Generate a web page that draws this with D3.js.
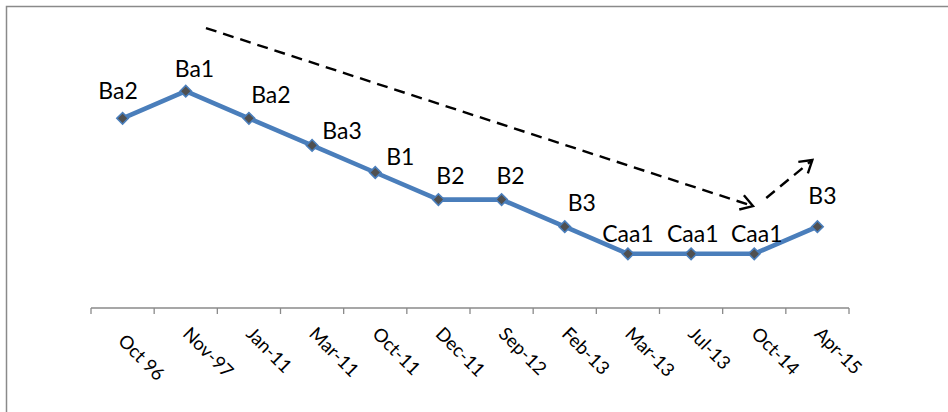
<!DOCTYPE html>
<html>
<head>
<meta charset="utf-8">
<script src="https://cdn.jsdelivr.net/npm/d3@7"></script>
<style>
  html, body { margin: 0; padding: 0; background: #fff; }
  svg { display: block; }
</style>
</head>
<body>
<svg id="chart" width="948" height="412"></svg>
<script>
// Rating dates and the rating assigned at each date
const categories = ["Oct 96", "Nov-97", "Jan-11", "Mar-11", "Oct-11", "Dec-11",
                    "Sep-12", "Feb-13", "Mar-13", "Jul-13", "Oct-14", "Apr-15"];
const ratings = ["Ba2", "Ba1", "Ba2", "Ba3", "B1", "B2", "B2", "B3", "Caa1", "Caa1", "Caa1", "B3"];

// Rating ladder, lowest first; notch value = position + 2
const ratingLadder = ["Caa1", "B3", "B2", "B1", "Ba3", "Ba2", "Ba1"];
const notch = r => ratingLadder.indexOf(r) + 2;

// Trend arrows in data units: [category index, notch value]
const downTrend = [[1.32, 10.33], [9.98, 3.76]];
const upTrend = [[10.19, 4.06], [10.92, 5.46]];

// Hand-placed offsets of the rating labels relative to their points
const labelShift = [[-4.5, -19], [8.7, -14], [22, -15], [30, -6.5], [25, -8], [12, -16],
                    [9, -16], [17, -16], [0, -11.6], [1.7, -11.6], [2.5, -11.6], [5, -23]];

const svg = d3.select("#chart");
const W = 948, H = 412;

// Chart frame (only its top and left edges fall inside the view)
svg.append("rect")
  .attr("x", 6.5).attr("y", 6.5)
  .attr("width", W + 20).attr("height", H + 20)
  .attr("fill", "#fff")
  .attr("stroke", "#8a8a8a").attr("stroke-width", 1.5);

const x = d3.scaleBand().domain(categories).range([91, 849]).padding(0);
const xi = d3.scaleLinear().domain([-0.5, categories.length - 0.5]).range(x.range());
const y = d3.scaleLinear().domain([0, 10]).range([308, 37]);
const cx = d => x(d) + x.bandwidth() / 2;

// Category axis: baseline with ticks on band edges
const axisY = y(0);
const edges = categories.map(c => x(c)).concat([x.range()[1]]);
const axis = svg.append("g").attr("stroke", "#8a8a8a").attr("stroke-width", 1.3);
axis.append("line")
  .attr("x1", edges[0]).attr("x2", edges[edges.length - 1])
  .attr("y1", axisY).attr("y2", axisY);
axis.selectAll("line.tick").data(edges).join("line")
  .attr("class", "tick")
  .attr("x1", d => d).attr("x2", d => d)
  .attr("y1", axisY).attr("y2", axisY + 6);

svg.append("g").selectAll("text").data(categories).join("text")
  .attr("transform", (d, i) => {
    const dx = i === 0 ? -1.5 : 0, dy = i === 0 ? 7 : 0;
    return `translate(${cx(d) - 4 + dx},${axisY + 27 + dy}) rotate(45)`;
  })
  .attr("text-anchor", "start")
  .attr("font-family", "Lato, 'Open Sans', sans-serif")
  .attr("font-size", 18.5)
  .attr("fill", "#000")
  .text(d => d);

// Trend arrows
const defs = svg.append("defs");
defs.append("marker")
  .attr("id", "chev")
  .attr("markerUnits", "userSpaceOnUse")
  .attr("viewBox", "-14 -10 16 20")
  .attr("refX", 0).attr("refY", 0)
  .attr("markerWidth", 16).attr("markerHeight", 20)
  .attr("orient", "auto")
  .append("path")
  .attr("d", "M-12,-7.5 L0,0 L-12,7.5")
  .attr("fill", "none").attr("stroke", "#000").attr("stroke-width", 2.4)
  .attr("stroke-linejoin", "miter");

const arrowLine = d3.line().x(d => xi(d[0])).y(d => y(d[1]));
[downTrend, upTrend].forEach(seg => {
  svg.append("path")
    .attr("d", arrowLine(seg))
    .attr("fill", "none")
    .attr("stroke", "#000")
    .attr("stroke-width", 2.4)
    .attr("stroke-dasharray", "11,7")
    .attr("marker-end", "url(#chev)");
});

// Rating path
const pts = categories.map((c, i) => ({ c, r: ratings[i], v: notch(ratings[i]), i }));
svg.append("path")
  .datum(pts)
  .attr("d", d3.line().x(d => cx(d.c)).y(d => y(d.v)))
  .attr("fill", "none")
  .attr("stroke", "#4a7ebb")
  .attr("stroke-width", 4.6)
  .attr("stroke-linejoin", "round");

// Diamond markers
svg.append("g").selectAll("path").data(pts).join("path")
  .attr("transform", d => `translate(${cx(d.c)},${y(d.v)}) rotate(45)`)
  .attr("d", d3.symbol(d3.symbolSquare, 66)())
  .attr("fill", "#505050")
  .attr("stroke", "#4a7ebb")
  .attr("stroke-width", 1.6);

// Rating labels
svg.append("g").selectAll("text").data(pts).join("text")
  .attr("x", d => cx(d.c) + labelShift[d.i][0])
  .attr("y", d => y(d.v) + labelShift[d.i][1])
  .attr("text-anchor", "middle")
  .attr("font-family", "Lato, 'Open Sans', sans-serif")
  .attr("font-size", 23)
  .attr("fill", "#000")
  .text(d => d.r);
</script>
</body>
</html>
